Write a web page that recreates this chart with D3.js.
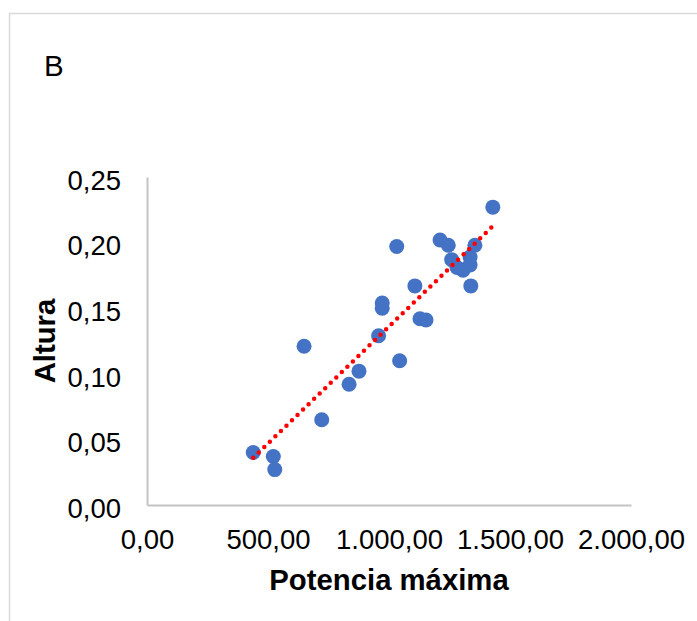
<!DOCTYPE html>
<html>
<head>
<meta charset="utf-8">
<script src="https://cdn.jsdelivr.net/npm/d3@7"></script>
<style>
  body { margin: 0; background: #fff; }
  text { font-family: "Liberation Sans", Arial, sans-serif; fill: #000; }
</style>
</head>
<body>
<svg id="chart"></svg>
<script>
(function() {

  // Potencia máxima (x) y Altura (y)
  const potencia = [439, 522, 528, 649, 722, 835, 876, 957, 972, 972, 1032, 1044, 1107,
    1128, 1153, 1211, 1245, 1259, 1281, 1306, 1335, 1335, 1338, 1355, 1429];
  const altura = [0.040, 0.037, 0.027, 0.121, 0.065, 0.092, 0.102, 0.129, 0.154, 0.150,
    0.197, 0.110, 0.167, 0.142, 0.141, 0.202, 0.198, 0.187, 0.181, 0.179, 0.189, 0.183,
    0.167, 0.198, 0.227];

  const xTicks = [0, 500, 1000, 1500, 2000];
  const yTicks = [0, 0.05, 0.10, 0.15, 0.20, 0.25];

  const panelLabel = 'B';
  const xTitle = 'Potencia máxima';
  const yTitle = 'Altura';

  const width = 697;
  const height = 621;
  const plot = { left: 147, right: 631, top: 177, bottom: 505 };

  const locale = d3.formatLocale({ decimal: ',', thousands: '.', grouping: [3], currency: ['', ''] });
  const fmtX = locale.format(',.2f');
  const fmtY = locale.format('.2f');

  const svg = d3.select('#chart')
    .attr('width', width)
    .attr('height', height);

  // chart frame (only top/left visible)
  svg.append('path')
    .attr('d', 'M9.5,' + height + 'V13.5H' + width)
    .attr('fill', 'none')
    .attr('stroke', '#d9d9d9')
    .attr('stroke-width', 1.5);

  const x = d3.scaleLinear().domain([0, 2000]).range([plot.left, plot.right]);
  const y = d3.scaleLinear().domain([0, 0.25]).range([plot.bottom, plot.top]);

  const xAxis = svg.append('g')
    .attr('transform', 'translate(0,' + plot.bottom + ')')
    .call(d3.axisBottom(x).tickValues(xTicks).tickFormat(fmtX).tickSize(0).tickPadding(24.5));

  const yAxis = svg.append('g')
    .attr('transform', 'translate(' + plot.left + ',0)')
    .call(d3.axisLeft(y).tickValues(yTicks).tickFormat(fmtY).tickSize(0).tickPadding(26));

  [xAxis, yAxis].forEach(function(g) {
    g.select('.domain').attr('stroke', '#c4c4c4').attr('stroke-width', 2);
    g.selectAll('text')
      .style('font-family', '"Liberation Sans", Arial, sans-serif')
      .style('font-size', '27.5px')
      .attr('fill', '#000');
  });
  yAxis.selectAll('text').attr('dy', '0.45em');

  // points
  svg.append('g').selectAll('circle')
    .data(potencia)
    .enter()
    .append('circle')
    .attr('cx', function(d) { return x(d); })
    .attr('cy', function(d, i) { return y(altura[i]); })
    .attr('r', 7.5)
    .attr('fill', '#4472c4');

  // linear trendline
  const mx = d3.mean(potencia);
  const my = d3.mean(altura);
  let sxy = 0, sxx = 0;
  potencia.forEach(function(v, i) {
    sxy += (v - mx) * (altura[i] - my);
    sxx += (v - mx) * (v - mx);
  });
  const slope = sxy / sxx;
  const intercept = my - slope * mx;
  const xr = d3.extent(potencia);

  svg.append('line')
    .attr('x1', x(xr[0]))
    .attr('y1', y(intercept + slope * xr[0]))
    .attr('x2', x(xr[1]))
    .attr('y2', y(intercept + slope * xr[1]))
    .attr('stroke', '#ff0000')
    .attr('stroke-width', 4.5)
    .attr('stroke-linecap', 'round')
    .attr('stroke-dasharray', '0 7.7');

  // titles
  svg.append('text')
    .attr('x', 44)
    .attr('y', 76)
    .style('font-size', '29.5px')
    .text(panelLabel);

  svg.append('text')
    .attr('x', (plot.left + plot.right) / 2)
    .attr('y', 590)
    .attr('text-anchor', 'middle')
    .style('font-size', '29.3px')
    .style('font-weight', 'bold')
    .text(xTitle);

  svg.append('text')
    .attr('transform', 'translate(55,' + ((plot.top + plot.bottom) / 2) + ') rotate(-90)')
    .attr('text-anchor', 'middle')
    .style('font-size', '29.3px')
    .style('font-weight', 'bold')
    .text(yTitle);
})();
</script>
</body>
</html>
